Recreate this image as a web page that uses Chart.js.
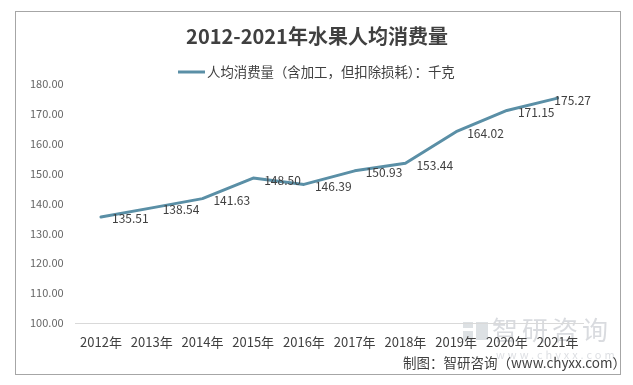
<!DOCTYPE html>
<html>
<head>
<meta charset="utf-8">
<script src="https://cdn.jsdelivr.net/npm/chart.js@4/dist/chart.umd.min.js"></script>
<style>
  html, body { margin: 0; padding: 0; background: #fff; }
  #wrap { position: relative; width: 633px; height: 385px; }
  #frame { position: absolute; left: 15px; top: 11px; width: 604px; height: 362px; border: 1px solid #a6a6a6; pointer-events: none; }
</style>
</head>
<body>
<div id="wrap">
  <canvas id="chart" width="633" height="385"></canvas>
  <div id="frame"></div>
</div>
<script>
const years = ["2012年", "2013年", "2014年", "2015年", "2016年", "2017年", "2018年", "2019年", "2020年", "2021年"];
const consumption = [135.51, 138.54, 141.63, 148.50, 146.39, 150.93, 153.44, 164.02, 171.15, 175.27];
const seriesName = "人均消费量（含加工，但扣除损耗）：千克";
const titleText = "2012-2021年水果人均消费量";
const sourceText = "制图：智研咨询（www.chyxx.com）";

const cjk = '"Noto Sans CJK SC", "Microsoft YaHei", sans-serif';
const lineColor = "#5a8fa6";

// title, legend, watermark, source and value labels
const decorPlugin = {
  id: "decor",
  beforeDraw(chart) {
    const ctx = chart.ctx;
    ctx.save();
    // watermark
    ctx.fillStyle = "rgba(180,188,196,0.45)";
    ctx.fillRect(463, 322, 10, 6);
    ctx.fillRect(476, 322, 12, 18);
    ctx.fillRect(463, 331, 10, 9);
    ctx.font = "26px " + cjk;
    ctx.textBaseline = "middle";
    ctx.textAlign = "left";
    ctx.fillStyle = "rgba(170,176,184,0.45)";
    ctx.letterSpacing = "4px";
    ctx.fillText("智研咨询", 492, 330);
    ctx.font = "11px " + cjk;
    ctx.letterSpacing = "3px";
    ctx.fillStyle = "rgba(170,176,184,0.4)";
    ctx.fillText("www.chyxx.com", 496, 355);
    ctx.restore();
  },
  afterDraw(chart) {
    const ctx = chart.ctx;
    ctx.save();
    ctx.textBaseline = "middle";
    // title
    ctx.font = "bold 20px " + cjk;
    ctx.fillStyle = "#404040";
    ctx.textAlign = "center";
    ctx.fillText(titleText, 317, 36);
    // legend
    ctx.strokeStyle = lineColor;
    ctx.lineWidth = 3;
    ctx.beginPath();
    ctx.moveTo(178, 72);
    ctx.lineTo(205, 72);
    ctx.stroke();
    ctx.font = "13.4px " + cjk;
    ctx.fillStyle = "#404040";
    ctx.textAlign = "left";
    ctx.fillText(seriesName, 207, 72);
    // source
    ctx.font = "13.5px " + cjk;
    ctx.textAlign = "right";
    ctx.fillText(sourceText, 626, 363);
    ctx.restore();
  },
  afterDatasetsDraw(chart) {
    const ctx = chart.ctx;
    const meta = chart.getDatasetMeta(0);
    ctx.save();
    ctx.font = "12px " + cjk;
    ctx.fillStyle = "#404040";
    ctx.textBaseline = "middle";
    ctx.textAlign = "left";
    meta.data.forEach((pt, i) => {
      const txt = consumption[i].toFixed(2);
      const w = ctx.measureText(txt).width;
      let x = pt.x + 11;
      if (x + w > 591) x = 591 - w;
      ctx.fillText(txt, x, pt.y + 2);
    });
    ctx.restore();
  }
};

new Chart(document.getElementById("chart"), {
  type: "line",
  data: {
    labels: years,
    datasets: [{
      label: seriesName,
      data: consumption,
      borderColor: lineColor,
      backgroundColor: lineColor,
      borderWidth: 3,
      borderCapStyle: "round",
      borderJoinStyle: "round",
      pointRadius: 0,
      tension: 0
    }]
  },
  options: {
    responsive: false,
    animation: false,
    layout: { padding: { left: 15.6, right: 50, top: 84, bottom: 22 } },
    plugins: {
      legend: { display: false },
      title: { display: false },
      tooltip: { enabled: false }
    },
    scales: {
      x: {
        offset: true,
        grid: { display: false, drawTicks: false, offset: true },
        border: { display: true, color: "#d9d9d9", width: 1 },
        ticks: {
          color: "#404040",
          font: { family: cjk, size: 13 },
          padding: 11,
          maxRotation: 0,
          autoSkip: false
        },
        afterFit(scale) { scale.height = 40; }
      },
      y: {
        min: 100,
        max: 180,
        grid: { display: false, drawTicks: false },
        border: { display: false },
        ticks: {
          stepSize: 10,
          color: "#666666",
          font: { family: cjk, size: 11 },
          padding: 12,
          callback: v => v.toFixed(2)
        },
        afterFit(scale) { scale.width = 60; }
      }
    }
  },
  plugins: [decorPlugin]
});
</script>
</body>
</html>
